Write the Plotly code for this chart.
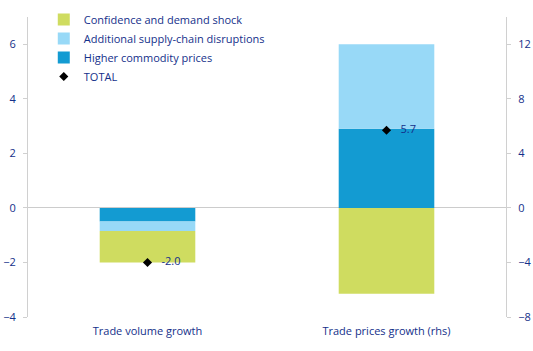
import plotly.graph_objects as go

categories = ["Trade volume growth", "Trade prices growth (rhs)"]
series_names = ["Confidence and demand shock", "Additional supply-chain disruptions", "Higher commodity prices"]
# values: [volume (lhs), prices (rhs)]
confidence = [-1.15, -6.3]
supply = [-0.35, 6.2]
commodity = [-0.5, 5.8]
total = [-2.0, 5.7]

colors = {"Confidence and demand shock": "#cfdc60",
          "Additional supply-chain disruptions": "#98d9f7",
          "Higher commodity prices": "#139bd2"}
txt = "#14308a"
font = "Open Sans"

fig = go.Figure()
# stacking order from zero outward: commodity, supply, confidence
order = [("Higher commodity prices", commodity, 3),
         ("Additional supply-chain disruptions", supply, 2),
         ("Confidence and demand shock", confidence, 1)]
for name, vals, rank in order:
    fig.add_trace(go.Bar(x=[categories[0]], y=[vals[0]], name=name, marker_color=colors[name],
                         marker_line_width=0, width=0.4, legendgroup=name, legendrank=rank,
                         yaxis="y"))
    fig.add_trace(go.Bar(x=[categories[1]], y=[vals[1]], name=name, marker_color=colors[name],
                         marker_line_width=0, width=0.4, legendgroup=name, showlegend=False,
                         yaxis="y2"))

fig.add_trace(go.Scatter(x=[categories[0]], y=[total[0]], mode="markers+text", name="TOTAL",
                         marker=dict(symbol="diamond", color="black", size=7),
                         text=[f"   {total[0]:.1f}"], textposition="middle right",
                         textfont=dict(color=txt, size=11, family=font),
                         legendgroup="TOTAL", legendrank=4, yaxis="y"))
fig.add_trace(go.Scatter(x=[categories[1]], y=[total[1]], mode="markers+text", name="TOTAL",
                         marker=dict(symbol="diamond", color="black", size=7),
                         text=[f"   {total[1]:.1f}"], textposition="middle right",
                         textfont=dict(color=txt, size=11, family=font),
                         legendgroup="TOTAL", showlegend=False, yaxis="y2"))

axis_common = dict(showgrid=False, showline=True, linecolor="#d0d0d0", linewidth=1,
                   ticks="outside", ticklen=4, tickcolor="#d0d0d0", ticklabelstandoff=5,
                   tickfont=dict(color=txt, size=11, family=font))
fig.update_layout(
    barmode="relative",
    width=533, height=351,
    margin=dict(l=28, r=27, t=17, b=34, autoexpand=False),
    plot_bgcolor="white", paper_bgcolor="white",
    font=dict(family=font, color=txt, size=11),
    xaxis=dict(showline=False, ticks="", ticklabelstandoff=6,
               tickfont=dict(color=txt, size=11, family=font)),
    yaxis=dict(range=[-4, 7], tickvals=[-4, -2, 0, 2, 4, 6], zeroline=True,
               zerolinecolor="#cccccc", zerolinewidth=1, **axis_common),
    yaxis2=dict(range=[-8, 14], tickvals=[-8, -4, 0, 4, 8, 12], overlaying="y", side="right",
                zeroline=False, **axis_common),
    legend=dict(x=0.033, y=1.04, xanchor="left", yanchor="top", bgcolor="rgba(0,0,0,0)",
                font=dict(size=11, color=txt, family=font), tracegroupgap=0),
    showlegend=True,
)
fig.write_html("out.html")
